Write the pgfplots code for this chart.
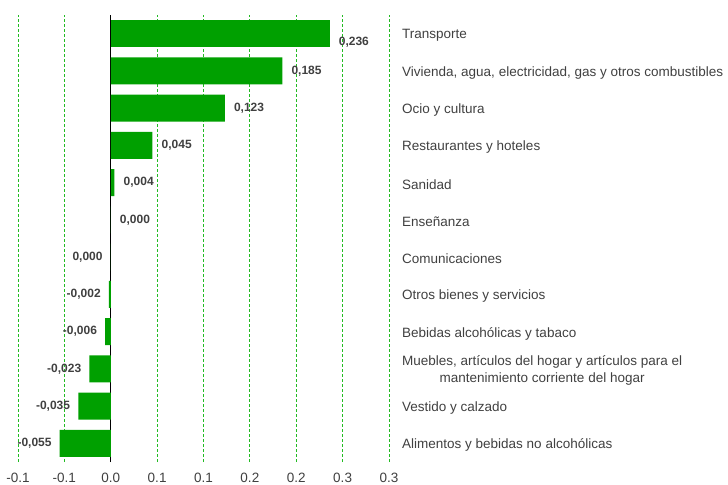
\documentclass[border=0pt]{standalone}
\usepackage{pgfplots}
\pgfplotsset{compat=1.18}
\usepackage{pgfplotstable}
\usepackage{fontspec}
\setmainfont{Liberation Sans}
\definecolor{barg}{HTML}{00A000}
\definecolor{gridg}{HTML}{22BB22}
\definecolor{txt}{HTML}{404040}

\pgfplotstableread{
y x label
11 0.236 0,236
}\tA
\pgfplotstableread{
y x label
10 0.185 0,185
9 0.123 0,123
8 0.045 0,045
7 0.004 0,004
6 0.000 0,000
}\tB
\pgfplotstableread{
y x label
5 0.000 0,000
4 -0.002 -0,002
3 -0.006 -0,006
2 -0.023 -0,023
1 -0.035 -0,035
0 -0.055 -0,055
}\tC

\begin{document}
\begin{tikzpicture}
\useasboundingbox (0,0) rectangle (728bp,485bp);
\begin{axis}[
  at={(18bp,23bp)}, anchor=south west,
  scale only axis, width=371bp, height=447bp,
  xbar, bar shift=0pt, bar width=27bp,
  xmin=-0.1, xmax=0.3, ymin=-0.5, ymax=11.5,
  xtick={-0.1,-0.05,0,0.05,0.1,0.15,0.2,0.25,0.3},
  xticklabels={-0.1,-0.1,0.0,0.1,0.1,0.2,0.2,0.3,0.3},
  ytick={0,1,2,3,4,5,6,7,8,9,10,11},
  yticklabels={
    {Alimentos y bebidas no alcohólicas},
    {Vestido y calzado},
    {Muebles, artículos del hogar y artículos para el\\mantenimiento corriente del hogar},
    {Bebidas alcohólicas y tabaco},
    {Otros bienes y servicios},
    {Comunicaciones},
    {Enseñanza},
    {Sanidad},
    {Restaurantes y hoteles},
    {Ocio y cultura},
    {Vivienda, agua, electricidad, gas y otros combustibles},
    {Transporte}},
  yticklabel pos=right,
  yticklabel style={anchor=west, align=center, inner sep=0pt, xshift=13bp, yshift=-2bp,
    font=\fontsize{13.5bp}{17bp}\selectfont, text=txt},
  xticklabel style={anchor=north, inner sep=0pt, yshift=-11bp,
    font=\fontsize{13.5bp}{16bp}\selectfont, text=txt},
  major tick length=0pt,
  axis line style={draw=none},
  xmajorgrids,
  grid style={gridg, dash pattern=on 3bp off 2bp, line width=0.9bp},
  extra x ticks={0}, extra x tick labels={},
  extra x tick style={grid style={black, solid, line width=1.3bp}},
  nodes near coords, point meta=explicit symbolic,
  nodes near coords style={font=\bfseries\fontsize{12bp}{14bp}\selectfont, text=txt, inner sep=0pt},
  clip=false,
]
\addplot[fill=barg, draw=none, nodes near coords style={anchor=west, xshift=9bp, yshift=-9bp}]
  table[x=x, y=y, meta=label] {\tA};
\addplot[fill=barg, draw=none, nodes near coords style={anchor=west, xshift=9bp}]
  table[x=x, y=y, meta=label] {\tB};
\addplot[fill=barg, draw=none, nodes near coords style={anchor=east, xshift=-8bp}]
  table[x=x, y=y, meta=label] {\tC};
\end{axis}
\end{tikzpicture}
\end{document}
